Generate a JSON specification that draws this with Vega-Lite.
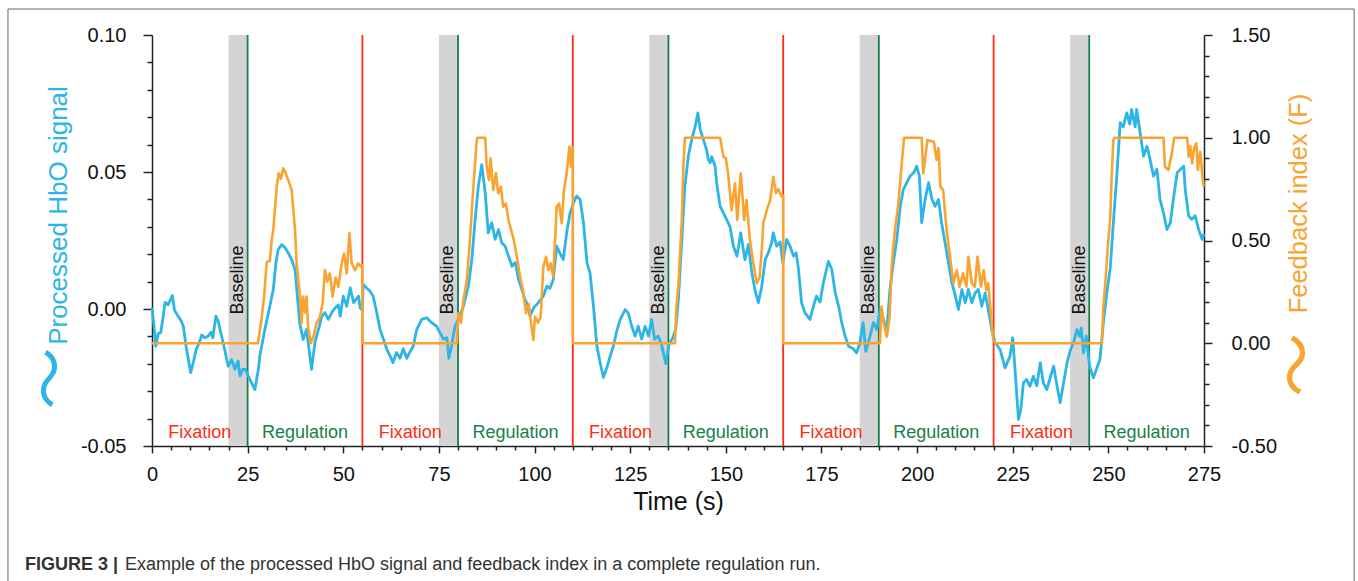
{
  "$schema": "https://vega.github.io/schema/vega-lite/v6.json",
  "width": 1052,
  "height": 411,
  "autosize": {"type": "none"},
  "padding": {"left": 152, "top": 35, "right": 154, "bottom": 135},
  "background": "white",
  "config": {
    "font": "Liberation Sans",
    "view": {"stroke": null},
    "axis": {"grid": false}
  },
  "datasets": {
    "hbo": [
      {"t":0,"v":0.0005},{"t":0.5,"v":-0.006},{"t":1.0,"v":-0.0136},{"t":1.6,"v":-0.009},{"t":2.3,"v":-0.0086},{"t":3.0,"v":-0.002},{"t":3.4,"v":0.0024},{"t":4.2,"v":0.0015},{"t":5.3,"v":0.0049},{"t":5.9,"v":-0.0005},{"t":6.8,"v":-0.0026},{"t":7.5,"v":-0.004},{"t":8.2,"v":-0.0063},{"t":8.9,"v":-0.0136},{"t":10.1,"v":-0.0232},{"t":10.8,"v":-0.0195},{"t":11.5,"v":-0.015},{"t":12.5,"v":-0.0117},{"t":13.0,"v":-0.0095},{"t":13.8,"v":-0.0105},{"t":14.7,"v":-0.0099},{"t":15.4,"v":-0.0085},{"t":15.9,"v":-0.0105},{"t":16.7,"v":-0.0026},{"t":17.3,"v":-0.0045},{"t":18.2,"v":-0.0099},{"t":19.0,"v":-0.0148},{"t":19.9,"v":-0.0209},{"t":20.8,"v":-0.0185},{"t":21.7,"v":-0.022},{"t":22.5,"v":-0.019},{"t":23.0,"v":-0.0245},{"t":23.7,"v":-0.022},{"t":24.4,"v":-0.022},{"t":25.6,"v":-0.0257},{"t":26.9,"v":-0.0294},{"t":27.8,"v":-0.022},{"t":28.2,"v":-0.017},{"t":29.5,"v":-0.0075},{"t":30.8,"v":0.001},{"t":31.7,"v":0.0071},{"t":32.4,"v":0.0169},{"t":33.0,"v":0.0217},{"t":33.9,"v":0.0235},{"t":34.7,"v":0.0225},{"t":35.6,"v":0.0205},{"t":36.5,"v":0.018},{"t":37.4,"v":0.0144},{"t":38.0,"v":0.0047},{"t":38.6,"v":-0.005},{"t":39.5,"v":-0.0111},{"t":40.4,"v":-0.0075},{"t":40.9,"v":-0.013},{"t":41.7,"v":-0.022},{"t":42.6,"v":-0.0122},{"t":43.5,"v":-0.0075},{"t":44.4,"v":-0.0026},{"t":45.2,"v":-0.0013},{"t":46.1,"v":-0.0038},{"t":47.0,"v":-0.0013},{"t":47.8,"v":0.0003},{"t":48.7,"v":0.0015},{"t":49.2,"v":-0.0026},{"t":50.0,"v":0.0047},{"t":50.9,"v":0.001},{"t":51.8,"v":0.0077},{"t":52.7,"v":0.0023},{"t":54.0,"v":0.0047},{"t":54.4,"v":0.0004},{"t":55.0,"v":-0.0005},{"t":55.2,"v":0.0089},{"t":56.1,"v":0.0077},{"t":57.0,"v":0.0065},{"t":57.8,"v":0.0047},{"t":58.7,"v":-0.001},{"t":59.6,"v":-0.0075},{"t":60.5,"v":-0.011},{"t":61.4,"v":-0.0148},{"t":62.2,"v":-0.017},{"t":63.0,"v":-0.0196},{"t":63.9,"v":-0.0159},{"t":64.8,"v":-0.018},{"t":65.7,"v":-0.0145},{"t":66.6,"v":-0.018},{"t":67.5,"v":-0.0155},{"t":68.3,"v":-0.0136},{"t":69.2,"v":-0.0075},{"t":70.5,"v":-0.0038},{"t":71.8,"v":-0.0032},{"t":73.1,"v":-0.005},{"t":74.4,"v":-0.0063},{"t":74.8,"v":-0.0075},{"t":76.2,"v":-0.011},{"t":77.1,"v":-0.0105},{"t":77.6,"v":-0.018},{"t":78.3,"v":-0.0136},{"t":79.2,"v":-0.0063},{"t":80.1,"v":-0.0038},{"t":81.4,"v":0.001},{"t":82.7,"v":0.0083},{"t":83.6,"v":0.018},{"t":84.4,"v":0.0315},{"t":85.3,"v":0.0448},{"t":86.2,"v":0.0527},{"t":87.1,"v":0.0424},{"t":87.9,"v":0.0278},{"t":88.8,"v":0.0315},{"t":89.7,"v":0.0254},{"t":90.6,"v":0.029},{"t":91.4,"v":0.0242},{"t":92.3,"v":0.023},{"t":93.2,"v":0.0193},{"t":94.1,"v":0.0156},{"t":95.0,"v":0.017},{"t":95.8,"v":0.0108},{"t":96.7,"v":0.0071},{"t":97.5,"v":0.0035},{"t":98.4,"v":0.001},{"t":98.8,"v":-0.0026},{"t":99.8,"v":0.0005},{"t":101.0,"v":0.0023},{"t":102.3,"v":0.0047},{"t":103.2,"v":0.0083},{"t":104.0,"v":0.0075},{"t":104.9,"v":0.0108},{"t":105.8,"v":0.0229},{"t":106.6,"v":0.0205},{"t":107.5,"v":0.018},{"t":108.4,"v":0.0278},{"t":109.3,"v":0.0351},{"t":110.2,"v":0.0388},{"t":111.0,"v":0.0412},{"t":111.9,"v":0.04},{"t":112.8,"v":0.0315},{"t":113.7,"v":0.0169},{"t":114.5,"v":0.0132},{"t":115.4,"v":0.001},{"t":116.3,"v":-0.0136},{"t":117.2,"v":-0.02},{"t":118.0,"v":-0.025},{"t":119.0,"v":-0.021},{"t":119.8,"v":-0.017},{"t":120.6,"v":-0.0136},{"t":121.5,"v":-0.008},{"t":122.4,"v":-0.0038},{"t":123.7,"v":-0.0002},{"t":124.5,"v":-0.0015},{"t":125.4,"v":-0.0063},{"t":126.3,"v":-0.0099},{"t":127.1,"v":-0.0063},{"t":128.0,"v":-0.011},{"t":128.9,"v":-0.0063},{"t":129.8,"v":-0.0099},{"t":130.6,"v":-0.0038},{"t":131.4,"v":-0.011},{"t":132.3,"v":-0.0099},{"t":133.2,"v":-0.013},{"t":134.3,"v":-0.02},{"t":135.2,"v":-0.0125},{"t":136.0,"v":-0.011},{"t":136.9,"v":-0.0075},{"t":137.6,"v":0.0035},{"t":138.5,"v":0.0254},{"t":139.3,"v":0.0448},{"t":140.2,"v":0.0558},{"t":141.1,"v":0.0619},{"t":142.0,"v":0.0667},{"t":142.7,"v":0.0716},{"t":143.3,"v":0.0655},{"t":144.1,"v":0.0619},{"t":145.0,"v":0.058},{"t":145.4,"v":0.0546},{"t":145.9,"v":0.0534},{"t":146.3,"v":0.0556},{"t":147.2,"v":0.0521},{"t":147.6,"v":0.0461},{"t":148.5,"v":0.0375},{"t":149.4,"v":0.035},{"t":150.2,"v":0.0327},{"t":151.1,"v":0.03},{"t":152.0,"v":0.0229},{"t":152.9,"v":0.0193},{"t":153.9,"v":0.0278},{"t":155.0,"v":0.018},{"t":155.9,"v":0.0235},{"t":156.8,"v":0.0132},{"t":157.6,"v":0.0071},{"t":158.5,"v":0.0023},{"t":159.4,"v":0.0083},{"t":160.3,"v":0.018},{"t":161.1,"v":0.0205},{"t":162.0,"v":0.0242},{"t":162.4,"v":0.0278},{"t":163.3,"v":0.0229},{"t":164.2,"v":0.0245},{"t":164.9,"v":0.0169},{"t":165.9,"v":0.0254},{"t":166.8,"v":0.0229},{"t":167.7,"v":0.0193},{"t":168.4,"v":0.0205},{"t":169.0,"v":0.0144},{"t":169.8,"v":0.0023},{"t":170.7,"v":-0.0014},{"t":172.0,"v":-0.0038},{"t":172.9,"v":0.001},{"t":173.7,"v":0.0047},{"t":174.6,"v":0.0025},{"t":175.5,"v":0.0096},{"t":176.8,"v":0.0174},{"t":177.7,"v":0.0144},{"t":178.6,"v":0.0059},{"t":179.5,"v":0.001},{"t":180.3,"v":-0.005},{"t":181.2,"v":-0.0099},{"t":182.1,"v":-0.0136},{"t":183.3,"v":-0.0145},{"t":184.2,"v":-0.016},{"t":185.0,"v":-0.0125},{"t":185.9,"v":-0.005},{"t":186.6,"v":-0.0155},{"t":187.5,"v":-0.011},{"t":188.6,"v":-0.005},{"t":189.5,"v":-0.0075},{"t":190.3,"v":-0.0002},{"t":191.2,"v":-0.0038},{"t":192.1,"v":-0.0075},{"t":192.9,"v":0.0071},{"t":193.8,"v":0.0169},{"t":194.7,"v":0.0254},{"t":195.6,"v":0.0375},{"t":196.4,"v":0.0436},{"t":197.3,"v":0.0461},{"t":198.2,"v":0.0485},{"t":199.1,"v":0.0497},{"t":199.9,"v":0.0521},{"t":200.6,"v":0.0485},{"t":201.2,"v":0.0315},{"t":202.1,"v":0.04},{"t":203.0,"v":0.0461},{"t":203.9,"v":0.04},{"t":204.7,"v":0.0375},{"t":205.6,"v":0.04},{"t":206.4,"v":0.0315},{"t":207.3,"v":0.0242},{"t":208.2,"v":0.0169},{"t":209.1,"v":0.0096},{"t":210.0,"v":0.0047},{"t":210.8,"v":-0.0002},{"t":211.7,"v":0.0071},{"t":212.6,"v":0.0023},{"t":213.4,"v":0.0071},{"t":214.3,"v":0.0023},{"t":215.2,"v":0.0059},{"t":216.0,"v":0.0071},{"t":216.9,"v":0.001},{"t":217.8,"v":0.0059},{"t":218.6,"v":-0.0002},{"t":219.5,"v":-0.0075},{"t":220.4,"v":-0.0123},{"t":221.7,"v":-0.0148},{"t":223.0,"v":-0.0215},{"t":224.3,"v":-0.0172},{"t":225.0,"v":-0.0105},{"t":225.6,"v":-0.022},{"t":226.5,"v":-0.0403},{"t":227.1,"v":-0.0367},{"t":227.8,"v":-0.0269},{"t":228.6,"v":-0.0257},{"t":229.5,"v":-0.0282},{"t":230.4,"v":-0.0245},{"t":231.3,"v":-0.028},{"t":232.2,"v":-0.0196},{"t":233.0,"v":-0.0269},{"t":233.9,"v":-0.0294},{"t":234.8,"v":-0.025},{"t":235.7,"v":-0.0209},{"t":236.6,"v":-0.0282},{"t":237.4,"v":-0.0342},{"t":238.3,"v":-0.0269},{"t":239.2,"v":-0.0196},{"t":240.1,"v":-0.0148},{"t":240.9,"v":-0.0123},{"t":241.8,"v":-0.0075},{"t":242.5,"v":-0.0099},{"t":242.9,"v":-0.0069},{"t":243.5,"v":-0.016},{"t":244.2,"v":-0.0099},{"t":245.1,"v":-0.0209},{"t":246.1,"v":-0.0251},{"t":247.0,"v":-0.0215},{"t":247.8,"v":-0.0184},{"t":248.7,"v":-0.005},{"t":249.6,"v":0.006},{"t":250.5,"v":0.015},{"t":251.3,"v":0.0315},{"t":252.2,"v":0.0485},{"t":253.1,"v":0.068},{"t":253.9,"v":0.0665},{"t":254.8,"v":0.0716},{"t":255.6,"v":0.0675},{"t":256.1,"v":0.0728},{"t":257.0,"v":0.0665},{"t":257.4,"v":0.0728},{"t":258.3,"v":0.0643},{"t":259.2,"v":0.0558},{"t":260.1,"v":0.0594},{"t":260.9,"v":0.0546},{"t":261.8,"v":0.0485},{"t":262.7,"v":0.051},{"t":263.5,"v":0.04},{"t":264.4,"v":0.0351},{"t":265.3,"v":0.029},{"t":266.2,"v":0.0315},{"t":267.1,"v":0.0412},{"t":268.0,"v":0.0497},{"t":268.8,"v":0.0509},{"t":269.7,"v":0.0521},{"t":270.1,"v":0.0436},{"t":271.0,"v":0.0339},{"t":271.8,"v":0.0327},{"t":272.7,"v":0.034},{"t":273.6,"v":0.029},{"t":274.5,"v":0.0254},{"t":275.0,"v":0.0275}
    ],
    "fb": [
      {"t":0,"f":0},{"t":27.7,"f":0},{"t":28.6,"f":0.113},{"t":29.3,"f":0.227},{"t":30.0,"f":0.397},{"t":30.8,"f":0.4},{"t":31.3,"f":0.502},{"t":31.7,"f":0.551},{"t":32.6,"f":0.762},{"t":33.1,"f":0.827},{"t":33.7,"f":0.8},{"t":34.3,"f":0.851},{"t":34.9,"f":0.83},{"t":35.6,"f":0.794},{"t":36.5,"f":0.746},{"t":37.4,"f":0.551},{"t":37.8,"f":0.389},{"t":38.7,"f":0.227},{"t":39.1,"f":0.097},{"t":39.5,"f":0.227},{"t":40.0,"f":0.15},{"t":40.4,"f":0.227},{"t":40.8,"f":0.08},{"t":41.5,"f":0.0},{"t":42.2,"f":0.032},{"t":43.0,"f":0.097},{"t":43.9,"f":0.129},{"t":44.6,"f":0.194},{"t":45.2,"f":0.356},{"t":45.8,"f":0.3},{"t":46.5,"f":0.34},{"t":47.2,"f":0.227},{"t":48.0,"f":0.32},{"t":48.7,"f":0.275},{"t":49.6,"f":0.389},{"t":50.2,"f":0.437},{"t":50.9,"f":0.34},{"t":51.6,"f":0.535},{"t":52.2,"f":0.389},{"t":53.1,"f":0.356},{"t":53.9,"f":0.389},{"t":54.6,"f":0.372},{"t":55.0,"f":0.38},{"t":55.01,"f":0},
      {"t":79.7,"f":0},{"t":80.1,"f":0.146},{"t":80.8,"f":0.1},{"t":81.4,"f":0.21},{"t":82.3,"f":0.308},{"t":83.1,"f":0.502},{"t":83.6,"f":0.648},{"t":84.2,"f":0.81},{"t":84.9,"f":0.989},{"t":85.1,"f":1.0},{"t":87.1,"f":1.0},{"t":87.5,"f":0.859},{"t":88.1,"f":0.794},{"t":88.5,"f":0.9},{"t":89.2,"f":0.746},{"t":89.9,"f":0.827},{"t":90.5,"f":0.73},{"t":91.2,"f":0.762},{"t":91.8,"f":0.665},{"t":92.5,"f":0.68},{"t":93.2,"f":0.6},{"t":94.1,"f":0.535},{"t":94.6,"f":0.5},{"t":95.4,"f":0.421},{"t":96.2,"f":0.324},{"t":97.1,"f":0.243},{"t":97.8,"f":0.146},{"t":98.5,"f":0.19},{"t":99.3,"f":0.065},{"t":99.7,"f":0.016},{"t":100.1,"f":0.129},{"t":100.9,"f":0.1},{"t":101.6,"f":0.129},{"t":102.3,"f":0.372},{"t":103.0,"f":0.421},{"t":103.6,"f":0.356},{"t":104.2,"f":0.389},{"t":104.9,"f":0.324},{"t":105.8,"f":0.665},{"t":106.4,"f":0.68},{"t":107.1,"f":0.584},{"t":107.7,"f":0.746},{"t":108.4,"f":0.827},{"t":109.1,"f":0.956},{"t":109.5,"f":0.859},{"t":109.9,"f":0.956},{"t":110.0,"f":0.95},{"t":110.01,"f":0},
      {"t":136.7,"f":0},{"t":137.1,"f":0.178},{"t":137.6,"f":0.275},{"t":138.5,"f":0.6},{"t":138.9,"f":0.859},{"t":139.3,"f":1.0},{"t":148.5,"f":1.0},{"t":149.4,"f":0.908},{"t":150.0,"f":0.9},{"t":150.6,"f":0.827},{"t":151.5,"f":0.648},{"t":152.4,"f":0.778},{"t":153.0,"f":0.6},{"t":153.9,"f":0.827},{"t":154.8,"f":0.6},{"t":155.4,"f":0.697},{"t":156.3,"f":0.502},{"t":157.2,"f":0.389},{"t":158.1,"f":0.292},{"t":158.8,"f":0.32},{"t":159.4,"f":0.454},{"t":159.8,"f":0.584},{"t":160.7,"f":0.648},{"t":161.6,"f":0.697},{"t":162.4,"f":0.81},{"t":163.1,"f":0.73},{"t":163.7,"f":0.75},{"t":164.6,"f":0.713},{"t":165.0,"f":0.72},{"t":165.01,"f":0},
      {"t":190.3,"f":0},{"t":190.7,"f":0.178},{"t":191.3,"f":0.097},{"t":192.1,"f":0.032},{"t":192.8,"f":0.129},{"t":193.4,"f":0.389},{"t":194.2,"f":0.551},{"t":195.1,"f":0.681},{"t":196.0,"f":0.876},{"t":196.6,"f":1.0},{"t":201.2,"f":1.0},{"t":201.6,"f":0.827},{"t":202.1,"f":0.9},{"t":202.7,"f":0.989},{"t":204.4,"f":0.98},{"t":205.1,"f":0.892},{"t":205.6,"f":0.95},{"t":206.1,"f":0.762},{"t":206.8,"f":0.746},{"t":207.7,"f":0.551},{"t":208.6,"f":0.421},{"t":209.5,"f":0.292},{"t":210.4,"f":0.356},{"t":211.1,"f":0.275},{"t":212.0,"f":0.34},{"t":212.9,"f":0.275},{"t":213.4,"f":0.421},{"t":214.3,"f":0.292},{"t":215.1,"f":0.275},{"t":215.8,"f":0.421},{"t":216.7,"f":0.275},{"t":217.4,"f":0.356},{"t":218.1,"f":0.259},{"t":218.6,"f":0.292},{"t":219.5,"f":0.097},{"t":219.9,"f":0.016},{"t":220.5,"f":0},
      {"t":248.3,"f":0},{"t":248.7,"f":0.178},{"t":249.2,"f":0.292},{"t":249.8,"f":0.454},{"t":250.5,"f":0.616},{"t":250.9,"f":0.827},{"t":251.3,"f":0.989},{"t":251.6,"f":1.0},{"t":264.4,"f":1.0},{"t":264.8,"f":0.859},{"t":265.7,"f":0.843},{"t":266.6,"f":0.924},{"t":267.2,"f":1.0},{"t":270.6,"f":1.0},{"t":271.0,"f":0.908},{"t":271.4,"f":0.96},{"t":271.9,"f":0.876},{"t":272.4,"f":0.95},{"t":273.0,"f":0.973},{"t":273.4,"f":0.843},{"t":274.0,"f":0.93},{"t":274.9,"f":0.762}
    ],
    "baselines": [
      {"start":20,"end":25},{"start":75,"end":80},{"start":130,"end":135},{"start":185,"end":190},{"start":240,"end":245}
    ],
    "events": [
      {"t":25,"phase":"Regulation"},{"t":55,"phase":"Fixation"},{"t":80,"phase":"Regulation"},{"t":110,"phase":"Fixation"},{"t":135,"phase":"Regulation"},{"t":165,"phase":"Fixation"},{"t":190,"phase":"Regulation"},{"t":220,"phase":"Fixation"},{"t":245,"phase":"Regulation"}
    ],
    "labels": [
      {"t":12.5,"phase":"Fixation"},{"t":40,"phase":"Regulation"},{"t":67.5,"phase":"Fixation"},{"t":95,"phase":"Regulation"},{"t":122.5,"phase":"Fixation"},{"t":150,"phase":"Regulation"},{"t":177.5,"phase":"Fixation"},{"t":205,"phase":"Regulation"},{"t":232.5,"phase":"Fixation"},{"t":260,"phase":"Regulation"}
    ],
    "baselineLabels": [
      {"t":22.5,"label":"Baseline"},{"t":77.5,"label":"Baseline"},{"t":132.5,"label":"Baseline"},{"t":187.5,"label":"Baseline"},{"t":242.5,"label":"Baseline"}
    ],
    "caption": [
      {"bold":"FIGURE 3 |","rest":"Example of the processed HbO signal and feedback index in a complete regulation run.","blueIcon":"〜","orangeIcon":"〜"}
    ]
  },
  "layer": [
    {
      "data": {"name": "caption"},
      "mark": {"type": "rect", "fill": null, "stroke": "#666666", "strokeWidth": 1},
      "encoding": {
        "x": {"datum": -37.65, "type": "quantitative", "scale": {"domain": [0, 275], "nice": false, "zero": false}, "axis": null},
        "x2": {"datum": 314.25},
        "y": {"datum": 1.6265, "type": "quantitative", "scale": {"domain": [-0.5, 1.5], "nice": false, "zero": false}, "axis": null},
        "y2": {"datum": -1.25}
      }
    },
    {
      "data": {"name": "baselines"},
      "mark": {"type": "rect", "color": "#d4d4d4"},
      "encoding": {
        "x": {"field": "start", "type": "quantitative", "scale": {"domain": [0, 275], "nice": false, "zero": false}, "axis": null},
        "x2": {"field": "end"}
      }
    },
    {
      "data": {"name": "events"},
      "mark": {"type": "rule", "strokeWidth": 1.8},
      "encoding": {
        "x": {"field": "t", "type": "quantitative", "scale": {"domain": [0, 275], "nice": false, "zero": false}, "axis": null},
        "color": {"field": "phase", "type": "nominal", "scale": {"domain": ["Fixation", "Regulation"], "range": ["#ff2d12", "#17804a"]}, "legend": null}
      }
    },
    {
      "data": {"name": "hbo"},
      "mark": {"type": "line", "color": "#2cb5e6", "strokeWidth": 2.8, "strokeJoin": "round"},
      "encoding": {
        "x": {
          "field": "t", "type": "quantitative",
          "scale": {"domain": [0, 275], "nice": false, "zero": false},
          "axis": {
            "orient": "bottom", "values": [0,25,50,75,100,125,150,175,200,225,250,275],
            "tickSize": 7, "tickWidth": 1.5, "tickColor": "#222222",
            "domainColor": "#222222", "domainWidth": 1.5,
            "labelFontSize": 20, "labelColor": "#111111", "labelPadding": 11, "labelFlush": false,
            "title": "Time (s)", "titleFontSize": 25, "titleFontWeight": "normal", "titleColor": "#111111", "titlePadding": 5
          }
        },
        "y": {
          "field": "v", "type": "quantitative",
          "scale": {"domain": [-0.05, 0.1], "nice": false, "zero": false},
          "axis": {
            "orient": "left", "values": [-0.05, 0, 0.05, 0.1],
            "labelExpr": "replace(format(datum.value, '.2f'), '\u2212', '-')",
            "tickSize": 9, "tickWidth": 1.5, "tickColor": "#222222",
            "domainColor": "#222222", "domainWidth": 1.5,
            "labelFontSize": 20, "labelColor": "#111111", "labelPadding": 17,
            "title": "Processed HbO signal", "titleFontSize": 26, "titleFontWeight": "normal", "titleColor": "#2cb5e6", "titlePadding": 9, "titleY": 180
          }
        }
      }
    },
    {
      "data": {"name": "fb"},
      "mark": {"type": "line", "color": "#f9a331", "strokeWidth": 2.6, "strokeJoin": "round"},
      "encoding": {
        "x": {"field": "t", "type": "quantitative", "scale": {"domain": [0, 275], "nice": false, "zero": false}, "axis": null},
        "y": {
          "field": "f", "type": "quantitative",
          "scale": {"domain": [-0.5, 1.5], "nice": false, "zero": false},
          "axis": {
            "orient": "right", "values": [-0.5, 0, 0.5, 1, 1.5],
            "labelExpr": "replace(format(datum.value, '.2f'), '\u2212', '-')",
            "tickSize": 8, "tickWidth": 1.5, "tickColor": "#222222",
            "domainColor": "#222222", "domainWidth": 1.5,
            "labelFontSize": 20, "labelColor": "#111111", "labelPadding": 19,
            "title": "Feedback index (F)", "titleAngle": 270, "titleBaseline": "top", "titleFontSize": 25.5, "titleFontWeight": "normal", "titleColor": "#f9a331", "titlePadding": 10, "titleY": 168
          }
        }
      }
    },
    {
      "data": {"name": "labels"},
      "mark": {"type": "text", "fontSize": 18, "baseline": "middle", "align": "center"},
      "encoding": {
        "x": {
          "field": "t", "type": "quantitative",
          "scale": {"domain": [0, 275], "nice": false, "zero": false},
          "axis": {"orient": "bottom", "values": [5,10,15,20,30,35,40,45,55,60,65,70,80,85,90,95,105,110,115,120,130,135,140,145,155,160,165,170,180,185,190,195,205,210,215,220,230,235,240,245,255,260,265,270], "labels": false, "domain": false, "tickSize": 4, "tickWidth": 1.5, "tickColor": "#222222", "title": null}
        },
        "y": {
          "datum": -0.0451, "type": "quantitative",
          "scale": {"domain": [-0.05, 0.1], "nice": false, "zero": false},
          "axis": {"orient": "left", "values": [-0.04,-0.03,-0.02,-0.01,0.01,0.02,0.03,0.04,0.06,0.07,0.08,0.09], "labels": false, "domain": false, "tickSize": 5, "tickWidth": 1.5, "tickColor": "#222222", "title": null}
        },
        "text": {"field": "phase"},
        "color": {"field": "phase", "type": "nominal", "scale": {"domain": ["Fixation", "Regulation"], "range": ["#ff2d12", "#17804a"]}, "legend": null}
      }
    },
    {
      "data": {"name": "baselineLabels"},
      "mark": {"type": "text", "fontSize": 18, "baseline": "middle", "align": "center", "angle": 270, "color": "#111111"},
      "encoding": {
        "x": {"field": "t", "type": "quantitative", "scale": {"domain": [0, 275], "nice": false, "zero": false}, "axis": null},
        "y": {"datum": 0.0106, "type": "quantitative", "scale": {"domain": [-0.05, 0.1], "nice": false, "zero": false}, "axis": null},
        "text": {"field": "label"}
      }
    },
    {
      "data": {"name": "caption"},
      "mark": {"type": "text", "font": "Noto Sans CJK JP", "fontSize": 62, "baseline": "middle", "align": "center", "angle": 270, "color": "#2cb5e6"},
      "encoding": {
        "x": {"datum": -25.6, "type": "quantitative", "scale": {"domain": [0, 275], "nice": false, "zero": false}, "axis": null},
        "y": {"datum": -0.0254, "type": "quantitative", "scale": {"domain": [-0.05, 0.1], "nice": false, "zero": false}, "axis": null},
        "text": {"field": "blueIcon"}
      }
    },
    {
      "data": {"name": "caption"},
      "mark": {"type": "text", "font": "Noto Sans CJK JP", "fontSize": 64, "baseline": "middle", "align": "center", "angle": 270, "color": "#f9a331"},
      "encoding": {
        "x": {"datum": 300.4, "type": "quantitative", "scale": {"domain": [0, 275], "nice": false, "zero": false}, "axis": null},
        "y": {"datum": -0.0204, "type": "quantitative", "scale": {"domain": [-0.05, 0.1], "nice": false, "zero": false}, "axis": null},
        "text": {"field": "orangeIcon"}
      }
    },
    {
      "data": {"name": "caption"},
      "mark": {"type": "text", "fontSize": 18, "fontWeight": "bold", "baseline": "middle", "align": "left", "color": "#333333"},
      "encoding": {
        "x": {"datum": -33.2, "type": "quantitative", "scale": {"domain": [0, 275], "nice": false, "zero": false}, "axis": null},
        "y": {
          "datum": -1.079, "type": "quantitative",
          "scale": {"domain": [-0.5, 1.5], "nice": false, "zero": false},
          "axis": {"orient": "right", "values": [-0.4,-0.3,-0.2,-0.1,0.1,0.2,0.3,0.4,0.6,0.7,0.8,0.9,1.1,1.2,1.3,1.4], "labels": false, "domain": false, "tickSize": 5, "tickWidth": 1.5, "tickColor": "#222222", "title": null}
        },
        "text": {"field": "bold"}
      }
    },
    {
      "data": {"name": "caption"},
      "mark": {"type": "text", "fontSize": 18, "baseline": "middle", "align": "left", "color": "#333333"},
      "encoding": {
        "x": {"datum": -7.06, "type": "quantitative", "scale": {"domain": [0, 275], "nice": false, "zero": false}, "axis": null},
        "y": {"datum": -1.079, "type": "quantitative", "scale": {"domain": [-0.5, 1.5], "nice": false, "zero": false}, "axis": null},
        "text": {"field": "rest"}
      }
    }
  ],
  "resolve": {
    "scale": {"y": "independent"},
    "axis": {"x": "independent", "y": "independent"}
  }
}
